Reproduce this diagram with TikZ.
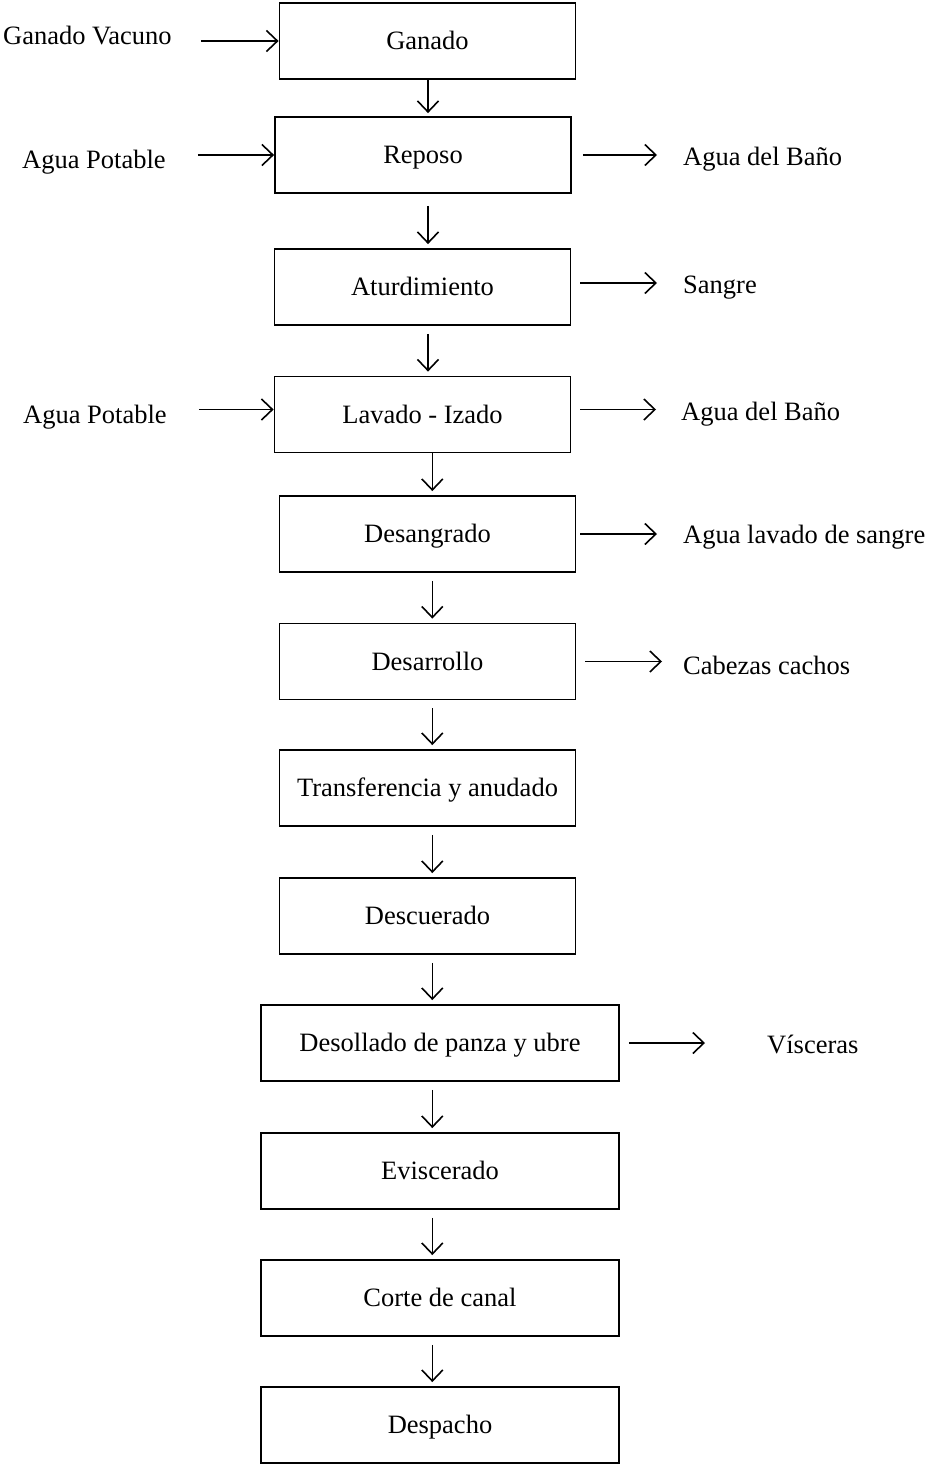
\documentclass[tikz,border=0pt]{standalone}
\usepackage{fontspec}
\setmainfont{Liberation Serif}
\usetikzlibrary{arrows.meta}

\tikzset{
  proc/.style={draw, line width=1.8pt, minimum width=296pt, minimum height=76pt,
    inner sep=0pt, text height=17.5pt, text depth=0pt},
  wide/.style={proc, minimum width=358pt},
  lbl/.style={anchor=west, inner sep=0pt, text height=17.5pt, text depth=0pt},
  flow/.style={line width=1.6pt, -{Straight Barb[length=11pt,width=21pt]}},
  gap/.style={shorten <=8pt, shorten >=4pt},
  outflow/.style={flow, shorten <=9pt, shorten >=26pt}
}

\begin{document}
\begin{tikzpicture}[x=1pt, y=-1pt, font=\fontsize{26.5}{30}\selectfont]
  \useasboundingbox (0,0) rectangle (927,1466);

  % process column
  \node[proc] (ganado)   at (427.5,41)   {Ganado};
  \node[proc] (reposo)   at (423,155)    {Reposo};
  \node[proc] (aturd)    at (422.5,287)  {Aturdimiento};
  \node[proc] (lavado)   at (422.5,414.5){Lavado - Izado};
  \node[proc] (desang)   at (427.5,534)  {Desangrado};
  \node[proc] (desarr)   at (427.5,661.5){Desarrollo};
  \node[proc] (transf)   at (427.5,788)  {Transferencia y anudado};
  \node[proc] (descue)   at (427.5,916)  {Descuerado};
  \node[wide] (desoll)   at (440,1043)   {Desollado de panza y ubre};
  \node[wide] (evisc)    at (440,1171)   {Eviscerado};
  \node[wide] (corte)    at (440,1298)   {Corte de canal};
  \node[wide] (despacho) at (440,1425)   {Despacho};

  \coordinate (axisA) at (428,0);
  \coordinate (axisB) at (432.3,0);

  \draw[flow, shorten >=3pt] (ganado.south -| axisA) -- (reposo.north -| axisA);
  \draw[flow, shorten <=12pt, shorten >=4pt] (reposo.south -| axisA) -- (aturd.north -| axisA);
  \draw[flow, gap] (aturd.south -| axisA) -- (lavado.north -| axisA);
  \draw[flow, shorten >=4pt] (lavado.south -| axisB) -- (desang.north -| axisB);
  \draw[flow, gap] (desang.south -| axisB) -- (desarr.north -| axisB);
  \draw[flow, gap] (desarr.south -| axisB) -- (transf.north -| axisB);
  \draw[flow, gap] (transf.south -| axisB) -- (descue.north -| axisB);
  \draw[flow, gap] (descue.south -| axisB) -- (desoll.north -| axisB);
  \draw[flow, gap] (desoll.south -| axisB) -- (evisc.north -| axisB);
  \draw[flow, gap] (evisc.south -| axisB) -- (corte.north -| axisB);
  \draw[flow, gap] (corte.south -| axisB) -- (despacho.north -| axisB);

  % inputs
  \node[lbl] (vacuno) at (3,36)    {Ganado Vacuno};
  \node[lbl] (potA)   at (22,160)  {Agua Potable};
  \node[lbl] (potB)   at (23,415)  {Agua Potable};
  \coordinate (lavIn) at ([yshift=5pt]lavado.west);

  \draw[flow, shorten <=29pt] (ganado.west -| vacuno.east) -- (ganado.west);
  \draw[flow, shorten <=32pt] (reposo.west -| potA.east) -- (reposo.west);
  \draw[flow, shorten <=32pt] (lavIn -| potB.east) -- (lavIn);

  % outputs
  \node[lbl] (banoA)     at (683,156.7) {Agua del Baño};
  \node[lbl] (sangre)    at (683,285)   {Sangre};
  \node[lbl] (banoB)     at (681,411.7) {Agua del Baño};
  \node[lbl] (lavsangre) at (683,535)   {Agua lavado de sangre};
  \node[lbl] (cabezas)   at (683,666)   {Cabezas cachos};
  \node[lbl] (visceras)  at (767,1045)  {Vísceras};
  \coordinate (aturdOut) at ([yshift=4pt]aturd.east);
  \coordinate (lavOut)   at ([yshift=5pt]lavado.east);

  \draw[outflow, shorten <=11pt] (reposo.east) -- (reposo.east -| banoA.west);
  \draw[outflow] (aturdOut) -- (aturdOut -| sangre.west);
  \draw[outflow, shorten >=25pt] (lavOut) -- (lavOut -| banoB.west);
  \draw[outflow, shorten <=4pt] (desang.east) -- (desang.east -| lavsangre.west);
  \draw[outflow, shorten >=21pt] (desarr.east) -- (desarr.east -| cabezas.west);
  \draw[outflow, shorten >=62pt] (desoll.east) -- (desoll.east -| visceras.west);
\end{tikzpicture}
\end{document}
